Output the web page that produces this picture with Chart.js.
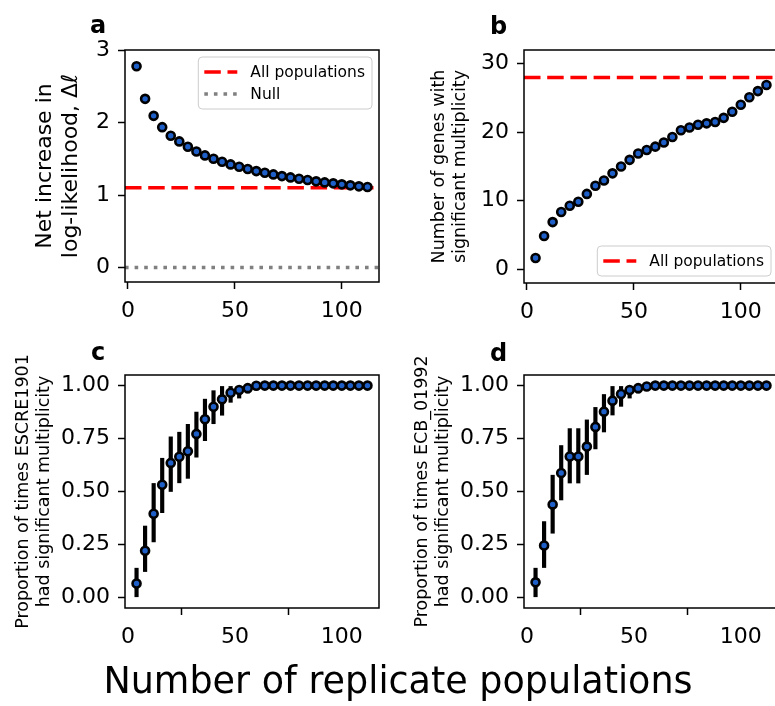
<!DOCTYPE html>
<html><head><meta charset="utf-8">
<script src="https://cdn.jsdelivr.net/npm/chart.js@4.4.0/dist/chart.umd.min.js"></script>
<style>
html,body{margin:0;padding:0;width:775px;height:706px;overflow:hidden;background:#fff;position:relative;}
.pane{position:absolute;}
.txt{position:absolute;font-family:'DejaVu Sans';color:#000;white-space:nowrap;}
</style></head><body>
<div class="pane" style="left:0;top:0"><canvas id="ca" width="390" height="330"></canvas></div>
<div class="pane" style="left:399px;top:0"><canvas id="cb" width="390" height="330"></canvas></div>
<div class="pane" style="left:0;top:330px"><canvas id="cc" width="390" height="330"></canvas></div>
<div class="pane" style="left:399px;top:330px"><canvas id="cd" width="390" height="330"></canvas></div>
<div class="txt" style="left:90px;top:13px;font-size:24px;line-height:24px;font-weight:bold">a</div>
<div class="txt" style="left:490px;top:14px;font-size:24px;line-height:24px;font-weight:bold">b</div>
<div class="txt" style="left:91px;top:340px;font-size:24px;line-height:24px;font-weight:bold">c</div>
<div class="txt" style="left:490px;top:341px;font-size:24px;line-height:24px;font-weight:bold">d</div>
<div class="txt" style="left:10px;width:776px;text-align:center;top:663px;font-size:36.5px;line-height:36px">Number of replicate populations</div>
<script>
// ---- data ----
const replicates = [4, 8, 12, 16, 20, 24, 28, 32, 36, 40, 44, 48, 52, 56, 60, 64, 68, 72, 76, 80, 84, 88, 92, 96, 100, 104, 108, 112];
const netIncreaseLL = [2.775, 2.326, 2.092, 1.936, 1.817, 1.739, 1.665, 1.601, 1.546, 1.500, 1.459, 1.422, 1.390, 1.358, 1.330, 1.307, 1.284, 1.261, 1.243, 1.225, 1.206, 1.188, 1.174, 1.161, 1.147, 1.133, 1.119, 1.110];
const allPopsLL = 1.10;
const nullLL = 0;
const sigGenes = [1.65, 4.85, 6.89, 8.35, 9.27, 9.85, 11.0, 12.2, 12.96, 14.0, 15.0, 15.97, 16.9, 17.4, 17.9, 18.5, 19.3, 20.3, 20.7, 21.1, 21.3, 21.5, 22.1, 23.0, 24.0, 25.1, 26.0, 26.9];
const allPopsGenes = 28;
const propESCRE = [0.066, 0.220, 0.395, 0.532, 0.635, 0.664, 0.690, 0.772, 0.841, 0.900, 0.935, 0.966, 0.979, 0.988, 0.999, 1, 1, 1, 1, 1, 1, 1, 1, 1, 1, 1, 1, 1];
const loESCRE = [0.003, 0.122, 0.262, 0.400, 0.500, 0.541, 0.562, 0.662, 0.740, 0.820, 0.860, 0.921, 0.941, 0.965, 0.990, 1, 1, 1, 1, 1, 1, 1, 1, 1, 1, 1, 1, 1];
const hiESCRE = [0.138, 0.337, 0.538, 0.657, 0.758, 0.780, 0.817, 0.875, 0.936, 0.976, 0.996, 0.996, 0.996, 0.998, 1, 1, 1, 1, 1, 1, 1, 1, 1, 1, 1, 1, 1, 1];
const propECB = [0.071, 0.245, 0.439, 0.587, 0.665, 0.665, 0.712, 0.805, 0.877, 0.929, 0.960, 0.979, 0.988, 0.996, 1, 1, 1, 1, 1, 1, 1, 1, 1, 1, 1, 1, 1, 1];
const loECB = [0.003, 0.141, 0.303, 0.460, 0.540, 0.540, 0.580, 0.701, 0.781, 0.861, 0.902, 0.941, 0.965, 0.985, 1, 1, 1, 1, 1, 1, 1, 1, 1, 1, 1, 1, 1, 1];
const hiECB = [0.138, 0.358, 0.577, 0.717, 0.797, 0.797, 0.838, 0.897, 0.958, 0.996, 0.996, 0.996, 0.996, 1, 1, 1, 1, 1, 1, 1, 1, 1, 1, 1, 1, 1, 1, 1];

const xRange = [-1.4, 117.4];
const xTicks = [0, 50, 100];
const yRangeA = [-0.2, 3];
const yTicksA = [0, 1, 2, 3];
const yRangeB = [-2, 32];
const yTicksB = [0, 10, 20, 30];
const yRangeP = [-0.05, 1.05];
const yTicksP = [0, 0.25, 0.5, 0.75, 1];

// ---- style ----
Chart.defaults.font.family = "'DejaVu Sans'";
Chart.defaults.color = '#000';
const DOT_FILL = '#1f5fc8';

const framePlugin = {
  id: 'frame',
  afterDraw(chart) {
    const {ctx, chartArea: a} = chart;
    ctx.save();
    ctx.strokeStyle = '#000';
    ctx.lineWidth = 1.5;
    ctx.strokeRect(a.left, a.top, a.right - a.left, a.bottom - a.top);
    ctx.restore();
  }
};

const boxLegend = {
  id: 'boxLegend',
  afterDatasetsDraw(chart, args, opts) {
    if (!opts || !opts.items) return;
    const {ctx, chartArea: a} = chart;
    ctx.save();
    ctx.font = opts.fontSize + "px 'DejaVu Sans'";
    const tw = Math.max(...opts.items.map(it => ctx.measureText(it.label).width));
    const sample = 33, gap = 13, rowH = 22, padL = 6, padR = 7, padV = 4;
    const w = padL + sample + gap + tw + padR;
    const h = opts.items.length * rowH + 2 * padV;
    const x = a.right - opts.inset - w;
    const y = opts.corner === 'top' ? a.top + opts.inset : a.bottom - opts.inset - h;
    ctx.beginPath();
    ctx.roundRect(x, y, w, h, 4);
    ctx.fillStyle = 'rgba(255,255,255,0.8)';
    ctx.fill();
    ctx.strokeStyle = '#cccccc';
    ctx.lineWidth = 1;
    ctx.stroke();
    opts.items.forEach((it, i) => {
      const cy = y + padV + rowH * (i + 0.5);
      ctx.beginPath();
      ctx.setLineDash(it.dash);
      ctx.strokeStyle = it.color;
      ctx.lineWidth = it.width;
      ctx.moveTo(x + padL, cy);
      ctx.lineTo(x + padL + sample, cy);
      ctx.stroke();
      ctx.setLineDash([]);
      ctx.fillStyle = '#000';
      ctx.textBaseline = 'middle';
      ctx.textAlign = 'left';
      ctx.fillText(it.label, x + padL + sample + gap, cy + 1);
    });
    ctx.restore();
  }
};

function axisCommon(ticks, fmt, pad) {
  return {
    type: 'linear',
    offset: false,
    afterBuildTicks: s => { s.ticks = ticks.map(v => ({value: v})); },
    grid: {display: true, drawOnChartArea: false, drawTicks: true, tickLength: 7, tickWidth: 1.5, tickColor: '#000'},
    border: {display: false},
    ticks: {color: '#000', font: {size: 22}, padding: pad, autoSkip: false, maxRotation: 0, callback: fmt}
  };
}

function hline(label, value, color, dash, width) {
  return {
    type: 'line', label: label,
    data: [{x: xRange[0], y: value}, {x: xRange[1], y: value}],
    borderColor: color, borderWidth: width, borderDash: dash, borderCapStyle: 'butt',
    pointRadius: 0, fill: false, order: 3
  };
}

function dots(values) {
  return {
    type: 'scatter', label: 'data',
    data: replicates.map((x, i) => ({x: x, y: values[i]})),
    pointRadius: 4, pointBorderWidth: 2.6, pointBorderColor: '#000',
    pointBackgroundColor: DOT_FILL, showLine: false, order: 0
  };
}

function errbars(lo, hi) {
  return {
    type: 'bar', label: 'err',
    data: replicates.map((x, i) => ({x: x, y: [lo[i], hi[i]]})),
    backgroundColor: '#000', borderWidth: 0, barThickness: 3.5, grouped: false, order: 1
  };
}

function makePanel(id, datasets, yRange, yTicks, yFmt, yTitle, geom, legendOpts) {
  const xs = axisCommon(xTicks, v => String(v), 9);
  xs.min = xRange[0]; xs.max = xRange[1];
  xs.afterFit = s => { s.height = geom.xH; };
  const ys = axisCommon(yTicks, yFmt, 8);
  ys.min = yRange[0]; ys.max = yRange[1];
  ys.afterFit = s => { s.width = geom.yW; };
  ys.title = {display: true, text: yTitle.text, color: '#000', font: {size: yTitle.size, lineHeight: yTitle.lh}, padding: {top: yTitle.pt, bottom: 0}};
  return new Chart(document.getElementById(id), {
    type: 'scatter',
    data: {datasets: datasets},
    options: {
      responsive: false, animation: false, events: [],
      layout: {padding: {left: 0, top: geom.top, right: geom.right, bottom: 0}},
      scales: {x: xs, y: ys},
      plugins: {legend: {display: false}, tooltip: {enabled: false}, boxLegend: legendOpts || {}}
    },
    plugins: [framePlugin, boxLegend]
  });
}

const redDash = [16.5, 6.7];
const grayDot = [3.6, 6.0];

makePanel('ca',
  [dots(netIncreaseLL), hline('All populations', allPopsLL, '#ff0000', redDash, 3.5), hline('Null', nullLL, '#808080', grayDot, 3.6)],
  yRangeA, yTicksA, v => String(v),
  {text: ['Net increase in', 'log-likelihood, Δℓ'], size: 22, lh: 1.2, pt: 32},
  {top: 50, right: 11, xH: 48, yW: 125},
  {corner: 'top', inset: 7, fontSize: 15.5, items: [
    {label: 'All populations', color: '#ff0000', dash: redDash, width: 3.5},
    {label: 'Null', color: '#808080', dash: grayDot, width: 3.6}]});

makePanel('cb',
  [dots(sigGenes), hline('All populations', allPopsGenes, '#ff0000', redDash, 3.5)],
  yRangeB, yTicksB, v => String(v),
  {text: ['Number of genes with', 'significant multiplicity'], size: 17.5, lh: 1.2, pt: 30},
  {top: 50, right: 11, xH: 47, yW: 125},
  {corner: 'bottom', inset: 7, fontSize: 15.5, items: [
    {label: 'All populations', color: '#ff0000', dash: redDash, width: 3.5}]});

makePanel('cc',
  [dots(propESCRE), errbars(loESCRE, hiESCRE)],
  yRangeP, yTicksP, v => v.toFixed(2),
  {text: ['Proportion of times ESCRE1901', 'had significant multiplicity'], size: 17.5, lh: 1.2, pt: 13},
  {top: 45, right: 11, xH: 52, yW: 125});

makePanel('cd',
  [dots(propECB), errbars(loECB, hiECB)],
  yRangeP, yTicksP, v => v.toFixed(2),
  {text: ['Proportion of times ECB_01992', 'had significant multiplicity'], size: 17.5, lh: 1.2, pt: 13},
  {top: 45, right: 11, xH: 52, yW: 125});
</script>
</body></html>
